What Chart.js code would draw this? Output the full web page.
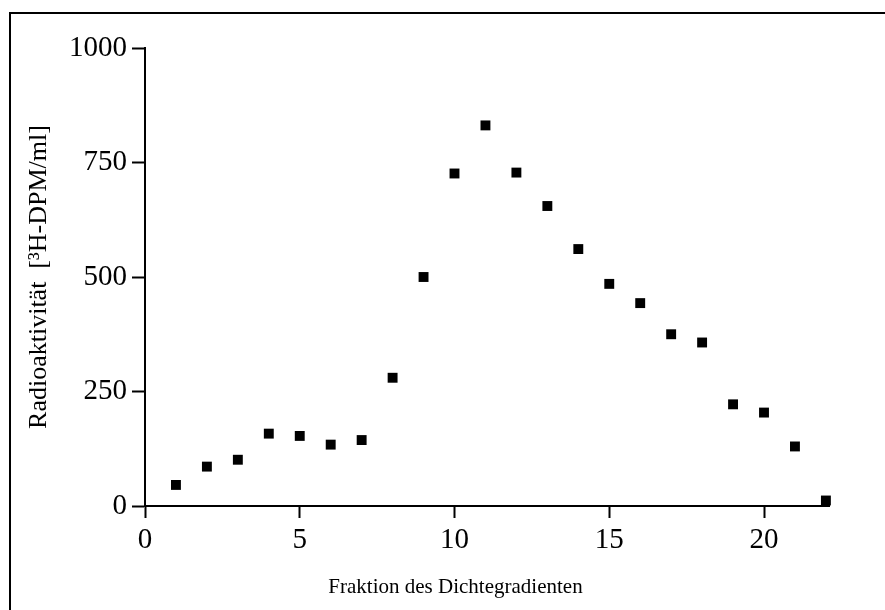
<!DOCTYPE html>
<html>
<head>
<meta charset="utf-8">
<script src="https://cdn.jsdelivr.net/npm/chart.js@4.4.1/dist/chart.umd.min.js"></script>
<style>
  html, body { margin: 0; padding: 0; background: #fff; }
  #wrap { width: 885px; height: 610px; }
</style>
</head>
<body>
<div id="wrap"><canvas id="chart"></canvas></div>
<script>
const fractions = [1, 2, 3, 4, 5, 6, 7, 8, 9, 10, 11, 12, 13, 14, 15, 16, 17, 18, 19, 20, 21, 22];
const activity = [46, 86, 101, 158, 153, 134, 144, 280, 500, 726, 831, 728, 655, 561, 485, 443, 375, 357, 222, 204, 130, 12];
const xTicks = [0, 5, 10, 15, 20];
const yTicks = [0, 250, 500, 750, 1000];

const serif = 'Liberation Serif, Times New Roman, serif';

// frame around the figure (only top and left edge are inside the picture)
const framePlugin = {
  id: 'frame',
  beforeDraw(chart) {
    const ctx = chart.ctx;
    ctx.save();
    ctx.strokeStyle = '#000';
    ctx.lineWidth = 2;
    ctx.strokeRect(10, 13, 1000, 1000);
    ctx.restore();
  },
};

// the x title sits left of the plot centre, trailing spaces push it over
const xTitle = 'Fraktion des Dichtegradienten' + '\u00A0'.repeat(12);

const ctx = document.getElementById('chart').getContext('2d');
new Chart(ctx, {
  type: 'scatter',
  data: {
    datasets: [{
      data: fractions.map((f, i) => ({ x: f, y: activity[i] })),
      pointStyle: 'rect',
      pointRadius: 7,
      pointHoverRadius: 7,
      backgroundColor: '#000',
      borderWidth: 0,
      clip: false,
    }],
  },
  options: {
    responsive: true,
    maintainAspectRatio: false,
    animation: false,
    layout: { padding: { top: 48, right: 56, left: 0, bottom: 0 } },
    plugins: { legend: { display: false }, tooltip: { enabled: false } },
    scales: {
      x: {
        type: 'linear',
        min: 0,
        max: 22.1,
        afterFit: (scale) => { scale.height = 104; },
        afterBuildTicks: (scale) => { scale.ticks = xTicks.map((v) => ({ value: v })); },
        border: { display: true, color: '#000', width: 2 },
        grid: { display: true, drawOnChartArea: false, drawTicks: true, tickLength: 12, tickWidth: 2, tickColor: '#000' },
        ticks: { color: '#000', padding: 5, font: { family: serif, size: 29 }, callback: (v) => String(v) },
        title: {
          display: true,
          text: xTitle,
          color: '#000',
          font: { family: serif, size: 21 },
          padding: { bottom: 10 },
        },
      },
      y: {
        type: 'linear',
        min: 0,
        max: 1000,
        afterFit: (scale) => { scale.width = 145; },
        afterBuildTicks: (scale) => { scale.ticks = yTicks.map((v) => ({ value: v })); },
        border: { display: true, color: '#000', width: 2 },
        grid: { display: true, drawOnChartArea: false, drawTicks: true, tickLength: 13, tickWidth: 2, tickColor: '#000' },
        ticks: { color: '#000', padding: 5, font: { family: serif, size: 29 }, callback: (v) => String(v) },
        title: {
          display: true,
          text: 'Radioaktivität  [³H-DPM/ml]',
          color: '#000',
          font: { family: serif, size: 26 },
          padding: { top: 24 },
        },
      },
    },
  },
  plugins: [framePlugin],
});
</script>
</body>
</html>
